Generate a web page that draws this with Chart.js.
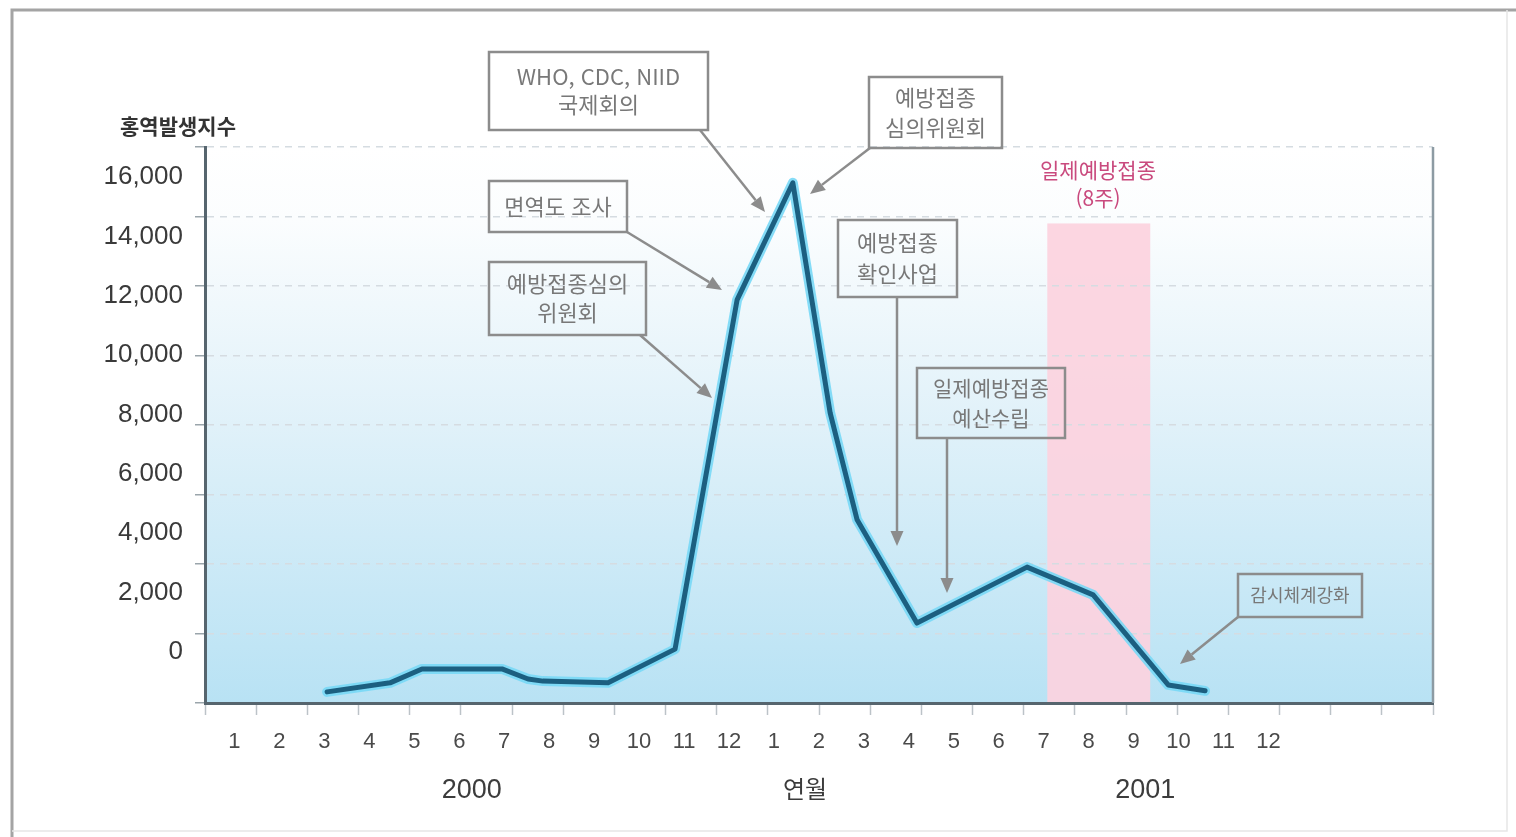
<!DOCTYPE html>
<html lang="ko">
<head>
<meta charset="utf-8">
<title>홍역발생지수 2000–2001</title>
<script src="https://cdn.jsdelivr.net/npm/chart.js@4.4.1/dist/chart.umd.min.js"></script>
<style>
  html, body { margin: 0; padding: 0; background: #ffffff; }
  #wrap { width: 1516px; height: 837px; }
</style>
</head>
<body>
<div id="wrap"><canvas id="chart" width="1516" height="837"></canvas></div>
<script>
// ---- data -------------------------------------------------------------
// Month axis: 1 = January 2000 ... 24 = December 2001
const monthTicks  = [1, 2, 3, 4, 5, 6, 7, 8, 9, 10, 11, 12,
                     13, 14, 15, 16, 17, 18, 19, 20, 21, 22, 23, 24];
const monthLabels = ['1', '2', '3', '4', '5', '6', '7', '8', '9', '10', '11', '12',
                     '1', '2', '3', '4', '5', '6', '7', '8', '9', '10', '11', '12'];
const yearLabels  = ['2000', '연월', '2001'];
const yearPos     = [6.28, 13.69, 21.26];

// y tick labels (홍역발생지수)
const yTicks = [0, 2000, 4000, 6000, 8000, 10000, 12000, 14000, 16000];

// measles index over time (month position, index value)
const monthPos = [3.06, 4.46, 5.17, 6.95, 7.53, 7.86, 9.31, 10.80, 12.18,
                  13.42, 14.25, 14.85, 16.18, 18.63, 20.10, 21.77, 22.59];
const cases    = [320, 580, 980, 980, 690, 630, 580, 1550, 11600,
                  14970, 8350, 5270, 2300, 3910, 3110, 520, 350];

// mass vaccination period (일제예방접종, 8주)
const campaignSpan = [19.08, 21.37];
const campaignTop  = 13800;

// ---- scales / styles ---------------------------------------------------
const X_MIN = 0.344, X_MAX = 27.66;
const YL_MIN = -1718, YL_MAX = 17010;
const FONT_NUM = '"Liberation Sans", Arial, Helvetica, sans-serif';
const FONT_KR  = '"Noto Sans CJK KR", "Noto Sans", sans-serif';
const AXIS_COLOR = '#56656e';
const NOTE_COLOR = '#787878';

const toPoints = () => monthPos.map((m, i) => ({ x: m, y: cases[i] }));

// plot background gradient and vaccination band
const backdrop = {
  id: 'backdrop',
  beforeDraw(chart) {
    const { ctx, chartArea: a, scales } = chart;
    ctx.save();
    const g = ctx.createLinearGradient(0, a.top, 0, a.bottom);
    g.addColorStop(0, '#ffffff');
    g.addColorStop(0.13, '#fbfdfe');
    g.addColorStop(0.5, '#e0f1f9');
    g.addColorStop(1, '#b8e2f4');
    ctx.fillStyle = g;
    ctx.fillRect(a.left, a.top, a.right - a.left, a.bottom - a.top);

    const x1 = scales.x.getPixelForValue(campaignSpan[0]);
    const x2 = scales.x.getPixelForValue(campaignSpan[1]);
    const yt = scales.y.getPixelForValue(campaignTop);
    ctx.fillStyle = 'rgba(252, 210, 222, 0.92)';
    ctx.fillRect(x1, yt, x2 - x1, a.bottom - yt);
    ctx.restore();
  }
};

// frame, right border, titles and callouts
const callouts = {
  id: 'callouts',
  afterDraw(chart) {
    const { ctx, chartArea: a } = chart;
    ctx.save();

    // outer frame
    ctx.strokeStyle = '#a4a4a4';
    ctx.lineWidth = 3;
    ctx.beginPath();
    ctx.moveTo(12, 837); ctx.lineTo(12, 10); ctx.lineTo(1516, 10);
    ctx.stroke();
    ctx.strokeStyle = '#e6e6e6';
    ctx.lineWidth = 1.5;
    ctx.beginPath();
    ctx.moveTo(1507, 10); ctx.lineTo(1507, 831); ctx.lineTo(12, 831);
    ctx.stroke();

    // right edge of plot
    ctx.strokeStyle = '#8d9ba3';
    ctx.lineWidth = 2.5;
    ctx.beginPath();
    ctx.moveTo(a.right, a.top); ctx.lineTo(a.right, a.bottom);
    ctx.stroke();

    // y axis title
    ctx.fillStyle = '#333333';
    ctx.font = 'bold 21px ' + FONT_KR;
    ctx.textAlign = 'center';
    ctx.textBaseline = 'middle';
    ctx.fillText('홍역발생지수', 178, 126);

    // campaign label
    ctx.fillStyle = '#c94a7e';
    ctx.font = '21px ' + FONT_KR;
    ctx.fillText('일제예방접종', 1098, 170);
    ctx.fillText('(8주)', 1098, 198);

    const box = (x1, y1, x2, y2, lines, size, gap) => {
      ctx.strokeStyle = '#8c8c8c';
      ctx.lineWidth = 2.5;
      ctx.strokeRect(x1, y1, x2 - x1, y2 - y1);
      ctx.fillStyle = NOTE_COLOR;
      ctx.font = size + 'px ' + FONT_KR;
      ctx.textAlign = 'center';
      ctx.textBaseline = 'middle';
      const cx = (x1 + x2) / 2, cy = (y1 + y2) / 2;
      lines.forEach((t, i) => {
        ctx.fillText(t, cx, cy + (i - (lines.length - 1) / 2) * gap);
      });
    };
    const arrow = (x1, y1, x2, y2) => {
      const ang = Math.atan2(y2 - y1, x2 - x1);
      const len = 15, half = 6.5;
      const bx = x2 - Math.cos(ang) * len, by = y2 - Math.sin(ang) * len;
      ctx.strokeStyle = '#8c8c8c';
      ctx.fillStyle = '#8c8c8c';
      ctx.lineWidth = 2.5;
      ctx.beginPath();
      ctx.moveTo(x1, y1); ctx.lineTo(bx, by);
      ctx.stroke();
      ctx.beginPath();
      ctx.moveTo(x2, y2);
      ctx.lineTo(bx + Math.sin(ang) * half, by - Math.cos(ang) * half);
      ctx.lineTo(bx - Math.sin(ang) * half, by + Math.cos(ang) * half);
      ctx.closePath();
      ctx.fill();
    };

    box(489, 52, 708, 130, ['WHO, CDC, NIID', '국제회의'], 22, 28);
    arrow(700, 130, 765, 212);

    box(869, 77, 1002, 148, ['예방접종', '심의위원회'], 22, 30);
    arrow(870, 148, 810, 194);

    box(489, 181, 627, 232, ['면역도 조사'], 22, 0);
    arrow(627, 232, 722, 290);

    box(489, 262, 646, 335, ['예방접종심의', '위원회'], 22, 29);
    arrow(640, 335, 712, 398);

    box(838, 220, 957, 297, ['예방접종', '확인사업'], 22, 31);
    arrow(897, 297, 897, 546);

    box(917, 368, 1065, 438, ['일제예방접종', '예산수립'], 21, 30);
    arrow(947, 438, 947, 593);

    box(1238, 574, 1362, 617, ['감시체계강화'], 18, 0);
    arrow(1238, 617, 1180, 664);

    ctx.restore();
  }
};

new Chart(document.getElementById('chart'), {
  type: 'line',
  data: {
    datasets: [
      { // main line (drawn on top)
        data: toPoints(),
        xAxisID: 'x', yAxisID: 'y',
        borderColor: '#1c5f80',
        borderWidth: 5,
        pointRadius: 0,
        tension: 0,
        borderJoinStyle: 'round',
        borderCapStyle: 'round',
        order: 0
      },
      { // soft halo under the line
        data: toPoints(),
        xAxisID: 'x', yAxisID: 'y',
        borderColor: 'rgba(120, 216, 246, 0.9)',
        borderWidth: 10,
        pointRadius: 0,
        tension: 0,
        borderJoinStyle: 'round',
        borderCapStyle: 'round',
        order: 1
      }
    ]
  },
  options: {
    responsive: false,
    animation: false,
    events: [],
    layout: { padding: { left: 0, right: 83, top: 147, bottom: 0 } },
    plugins: { legend: { display: false }, tooltip: { enabled: false } },
    scales: {
      xt: {
        type: 'linear', position: 'bottom', weight: 0,
        min: 0, max: 24,
        ticks: { display: false, stepSize: 1 },
        grid: { drawOnChartArea: false, drawTicks: true, tickLength: 12, tickColor: '#bcc3c8', tickWidth: 1.5 },
        border: { display: true, color: AXIS_COLOR, width: 3 },
        afterFit: s => { s.height = 0; }
      },
      x: {
        type: 'linear', position: 'bottom', weight: 1,
        min: X_MIN, max: X_MAX,
        afterBuildTicks: s => { s.ticks = monthTicks.map(v => ({ value: v })); },
        ticks: {
          callback: (v, i) => monthLabels[i],
          autoSkip: false, maxRotation: 0, minRotation: 0,
          padding: 26,
          color: '#4a4a4a',
          font: { family: FONT_NUM, size: 22 }
        },
        grid: { display: false, drawTicks: false },
        border: { display: false },
        afterFit: s => { s.height = 62; }
      },
      xy: {
        type: 'linear', position: 'bottom', weight: 2,
        min: X_MIN, max: X_MAX,
        afterBuildTicks: s => { s.ticks = yearPos.map(v => ({ value: v })); },
        ticks: {
          callback: (v, i) => yearLabels[i],
          autoSkip: false, maxRotation: 0, minRotation: 0,
          padding: 9,
          color: '#3c3c3c',
          font: c => (c.index === 1
            ? { family: FONT_KR, size: 24 }
            : { family: FONT_NUM, size: 27 })
        },
        grid: { display: false, drawTicks: false },
        border: { display: false },
        afterFit: s => { s.height = 72; }
      },
      y: {
        type: 'linear', position: 'left', weight: 0,
        min: 0, max: 16000,
        ticks: { display: false, stepSize: 2000 },
        grid: {
          color: '#d5dce1', lineWidth: 1.5,
          drawTicks: true, tickLength: 10, tickColor: '#9aa5ab', tickBorderDash: [], tickWidth: 1.5
        },
        border: { display: true, color: AXIS_COLOR, width: 3, dash: [7, 6] },
        afterFit: s => { s.width = 10; }
      },
      yl: {
        type: 'linear', position: 'left', weight: 1,
        min: YL_MIN, max: YL_MAX,
        afterBuildTicks: s => { s.ticks = yTicks.map(v => ({ value: v })); },
        ticks: {
          callback: v => v.toLocaleString('en-US'),
          padding: 12,
          color: '#3a3a3a',
          font: { family: FONT_NUM, size: 26 }
        },
        grid: { display: false, drawTicks: false },
        border: { display: false },
        afterFit: s => { s.width = 195; }
      }
    }
  },
  plugins: [backdrop, callouts]
});
</script>
</body>
</html>
